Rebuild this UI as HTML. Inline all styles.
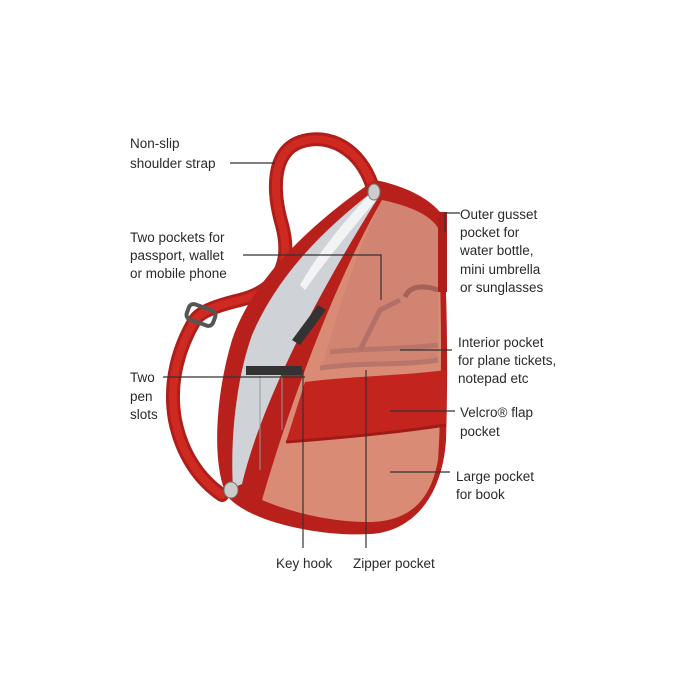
<!DOCTYPE html>
<html><head><style>
html,body{margin:0;padding:0;background:#fff;}
svg{display:block}
text{font-family:"Liberation Sans",Arial,sans-serif;font-size:13.5px;fill:#2a2a2a;}
</style></head><body>
<svg width="700" height="700" viewBox="0 0 700 700">
<!-- strap -->
<path d="M372,185 C360,150 330,132 300,142 C272,152 272,190 282,225 C292,262 280,290 240,300 C215,306 200,312 195,320 C180,345 168,380 175,420 C182,455 200,480 222,495"
 fill="none" stroke="#b01e1a" stroke-width="14" stroke-linecap="round"/>
<path d="M372,185 C360,150 330,132 300,142 C272,152 272,190 282,225 C292,262 280,290 240,300 C215,306 200,312 195,320 C180,345 168,380 175,420 C182,455 200,480 222,495"
 fill="none" stroke="#cf2a22" stroke-width="8" stroke-linecap="round"/>
<!-- buckle -->
<rect x="187" y="307" width="28" height="16" rx="5" transform="rotate(20 201 315)" fill="none" stroke="#555" stroke-width="4"/>
<!-- bag outer -->
<path d="M375,180 C400,185 425,195 440,212 C448,260 448,380 446,440 C442,500 410,532 370,534 C320,537 250,522 228,497 C212,470 214,400 232,340 C255,270 330,210 375,180 Z" fill="#b8201b"/>
<!-- gray interior -->
<path d="M372,192 C330,225 280,270 252,335 C236,380 230,440 233,488 L242,484 C262,400 320,290 378,198 Z" fill="#cfd2d6"/>
<path d="M372,192 C345,220 320,250 300,285 L305,290 C330,255 355,225 378,198 Z" fill="#f2f3f5"/>
<path d="M292,340 L318,305 L326,310 L300,345 Z" fill="#333"/>
<rect x="246" y="366" width="56" height="9" fill="#333"/>
<line x1="260" y1="376" x2="260" y2="470" stroke="#999"/>
<line x1="282" y1="376" x2="282" y2="430" stroke="#999"/>
<!-- front panel -->
<path d="M382,200 C410,206 430,215 438,228 C442,300 442,400 438,460 C430,505 405,522 368,522 C330,522 290,512 262,500 C285,420 330,290 382,200 Z" fill="#d98b75"/>
<path d="M382,200 C410,206 430,215 438,228 L438,360 L322,368 C340,300 360,245 382,200 Z" fill="#cd8270" opacity="0.7"/>
<!-- inner details -->
<path d="M330,352 C360,348 400,350 438,345" stroke="#b8756a" stroke-width="5" fill="none"/>
<path d="M320,368 C360,362 400,366 438,360" stroke="#b8756a" stroke-width="5" fill="none"/>
<path d="M400,300 L380,310 L360,350" stroke="#b3706a" stroke-width="5" fill="none"/>
<path d="M405,297 C410,285 425,285 438,290" stroke="#a76258" stroke-width="5" fill="none"/>
<!-- velcro flap -->
<path d="M305,382 C350,376 400,376 446,370 L446,425 C400,432 340,438 286,442 Z" fill="#c4241e"/>
<path d="M286,442 C340,438 400,432 446,425" stroke="#a01a16" stroke-width="3" fill="none"/>
<!-- zipper pulls -->
<ellipse cx="374" cy="192" rx="6" ry="8" fill="#ccc" stroke="#777"/>
<ellipse cx="231" cy="490" rx="7" ry="8" fill="#ccc" stroke="#777"/>
<!-- side gusset -->
<rect x="438" y="212" width="9" height="80" fill="#b01e1a"/>
<!-- leader lines -->
<g stroke="#333" stroke-width="1.2" fill="none">
<line x1="230" y1="163" x2="275" y2="163"/>
<polyline points="243,255 381,255 381,300"/>
<polyline points="163,377 305,377"/>
<polyline points="460,213 445,213 445,232"/>
<line x1="400" y1="350" x2="452" y2="350"/>
<line x1="390" y1="411" x2="455" y2="411"/>
<line x1="390" y1="472" x2="450" y2="472"/>
<line x1="303" y1="370" x2="303" y2="548"/>
<line x1="366" y1="370" x2="366" y2="548"/>
</g>
<!-- labels -->
<text x="130" y="148">Non-slip</text>
<text x="130" y="168">shoulder strap</text>
<text x="130" y="242">Two pockets for</text>
<text x="130" y="260">passport, wallet</text>
<text x="130" y="278">or mobile phone</text>
<text x="130" y="382">Two</text>
<text x="130" y="401">pen</text>
<text x="130" y="419">slots</text>
<text x="460" y="219">Outer gusset</text>
<text x="460" y="237">pocket for</text>
<text x="460" y="255">water bottle,</text>
<text x="460" y="274">mini umbrella</text>
<text x="460" y="292">or sunglasses</text>
<text x="458" y="347">Interior pocket</text>
<text x="458" y="365">for plane tickets,</text>
<text x="458" y="383">notepad etc</text>
<text x="460" y="417">Velcro® flap</text>
<text x="460" y="436">pocket</text>
<text x="456" y="481">Large pocket</text>
<text x="456" y="499">for book</text>
<text x="276" y="568">Key hook</text>
<text x="353" y="568">Zipper pocket</text>
</svg>
</body></html>
